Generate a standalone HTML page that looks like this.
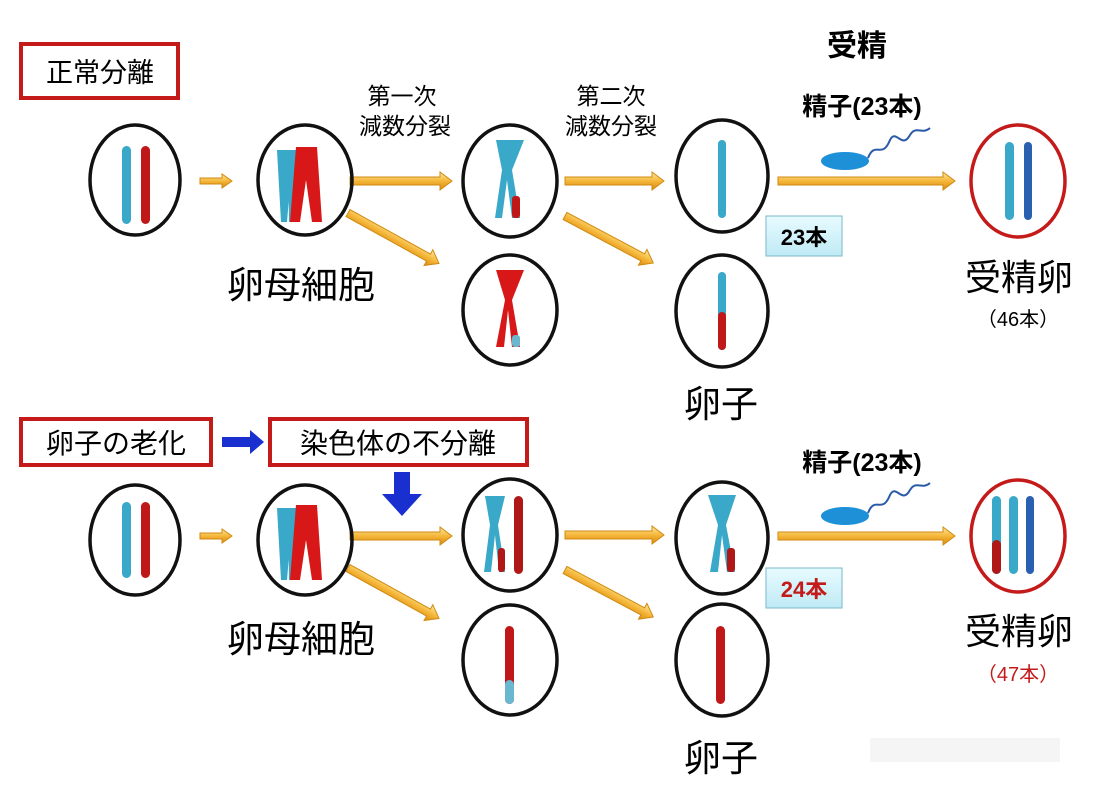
<!DOCTYPE html>
<html><head><meta charset="utf-8"><style>
html,body{margin:0;padding:0;background:#fff;}
svg{display:block;}
text{font-family:"Liberation Sans","Noto Sans CJK JP",sans-serif;}
</style></head><body>
<svg width="1108" height="796" viewBox="0 0 1108 796" xmlns="http://www.w3.org/2000/svg">
<defs>
<linearGradient id="ag" x1="0" y1="0" x2="0" y2="1"><stop offset="0" stop-color="#fde9a0"/><stop offset="0.5" stop-color="#f5b73a"/><stop offset="1" stop-color="#d98a10"/></linearGradient>
<linearGradient id="bx" x1="0" y1="0" x2="0" y2="1"><stop offset="0" stop-color="#e8fbff"/><stop offset="1" stop-color="#bfeaf5"/></linearGradient>
</defs>
<rect width="1108" height="796" fill="#fff"/>

<!-- boxes -->
<rect x="21" y="44" width="157" height="54" fill="#fff" stroke="#c41a1a" stroke-width="4"/>
<text x="100" y="82" font-size="27" text-anchor="middle">正常分離</text>
<rect x="21" y="419" width="190" height="46" fill="#fff" stroke="#c41a1a" stroke-width="4"/>
<text x="116" y="453" font-size="28" text-anchor="middle">卵子の老化</text>
<rect x="270" y="419" width="257" height="46" fill="#fff" stroke="#c41a1a" stroke-width="4"/>
<text x="398" y="453" font-size="28" text-anchor="middle">染色体の不分離</text>
<path d="M222,437 L250,437 L250,430 L264,442 L250,454 L250,447 L222,447Z" fill="#1a2fd0"/>
<path d="M394,472 L410,472 L410,494 L422,494 L402,516 L382,494 L394,494Z" fill="#1a2fd0"/>

<!-- labels -->
<text x="402" y="104" font-size="23" text-anchor="middle">第一次</text>
<text x="405" y="134" font-size="23" text-anchor="middle">減数分裂</text>
<text x="611" y="104" font-size="23" text-anchor="middle">第二次</text>
<text x="611" y="134" font-size="23" text-anchor="middle">減数分裂</text>
<text x="857" y="56" font-size="30" font-weight="bold" text-anchor="middle">受精</text>
<text x="862" y="115" font-size="25" font-weight="bold" text-anchor="middle">精子(23本)</text>
<text x="862" y="471" font-size="25" font-weight="bold" text-anchor="middle">精子(23本)</text>
<text x="301" y="298" font-size="37" text-anchor="middle">卵母細胞</text>
<text x="301" y="652" font-size="37" text-anchor="middle">卵母細胞</text>
<text x="1019" y="290" font-size="36" text-anchor="middle">受精卵</text>
<text x="1018" y="326" font-size="20" text-anchor="middle">（46本）</text>
<text x="1019" y="644" font-size="36" text-anchor="middle">受精卵</text>
<text x="1018" y="681" font-size="20" fill="#c41a1a" text-anchor="middle">（47本）</text>
<text x="721" y="417" font-size="37" text-anchor="middle">卵子</text>
<text x="721" y="771" font-size="37" text-anchor="middle">卵子</text>
<rect x="766" y="216" width="76" height="40" fill="url(#bx)" stroke="#7ab8c8"/>
<text x="804" y="245" font-size="22" font-weight="bold" text-anchor="middle">23本</text>
<rect x="766" y="568" width="76" height="40" fill="url(#bx)" stroke="#7ab8c8"/>
<text x="804" y="597" font-size="22" font-weight="bold" fill="#c41a1a" text-anchor="middle">24本</text>
<rect x="870" y="738" width="190" height="24" fill="#f2f2f2" opacity="0.8"/>

<!-- arrows -->
<g fill="url(#ag)" stroke="#d08a10" stroke-width="1">
<path d="M200,178 L222,178 L222,174 L232,181 L222,188 L222,184 L200,184Z"/>
<path d="M200,533 L222,533 L222,529 L232,536 L222,543 L222,539 L200,539Z"/>
<path d="M350,177 L440,177 L440,172 L452,181 L440,190 L440,185 L350,185Z"/>
<path d="M350,532 L440,532 L440,527 L452,536 L440,545 L440,540 L350,540Z"/>
<path d="M565,177 L652,177 L652,172 L664,181 L652,190 L652,185 L565,185Z"/>
<path d="M565,531 L652,531 L652,526 L664,535 L652,544 L652,539 L565,539Z"/>
<path d="M778,177 L943,177 L943,172 L955,181 L943,190 L943,185 L778,185Z"/>
<path d="M778,532 L943,532 L943,527 L955,536 L943,545 L943,540 L778,540Z"/>
<g transform="translate(348,213) rotate(29)"><path d="M0,-4 L92,-4 L92,-9 L104,0 L92,9 L92,4 L0,4Z"/></g>
<g transform="translate(348,568) rotate(29)"><path d="M0,-4 L92,-4 L92,-9 L104,0 L92,9 L92,4 L0,4Z"/></g>
<g transform="translate(565,216) rotate(28)"><path d="M0,-4 L88,-4 L88,-9 L100,0 L88,9 L88,4 L0,4Z"/></g>
<g transform="translate(565,570) rotate(28)"><path d="M0,-4 L88,-4 L88,-9 L100,0 L88,9 L88,4 L0,4Z"/></g>
</g>

<!-- circles -->
<g fill="none" stroke="#111" stroke-width="3.5">
<ellipse cx="135" cy="180" rx="45" ry="55"/>
<ellipse cx="305" cy="180" rx="47" ry="55"/>
<ellipse cx="510" cy="181" rx="47" ry="56"/>
<ellipse cx="510" cy="310" rx="47" ry="55"/>
<ellipse cx="722" cy="176" rx="46" ry="56"/>
<ellipse cx="722" cy="311" rx="46" ry="56"/>
<ellipse cx="135" cy="540" rx="45" ry="55"/>
<ellipse cx="305" cy="540" rx="47" ry="55"/>
<ellipse cx="510" cy="535" rx="47" ry="56"/>
<ellipse cx="510" cy="660" rx="47" ry="55"/>
<ellipse cx="722" cy="538" rx="46" ry="56"/>
<ellipse cx="722" cy="660" rx="46" ry="56"/>
</g>
<g fill="none" stroke="#c41a1a" stroke-width="3.5">
<ellipse cx="1018" cy="181" rx="47" ry="56"/>
<ellipse cx="1018" cy="536" rx="47" ry="56"/>
</g>

<!-- chromosomes -->
<g>
<rect x="122" y="146" width="9" height="78" rx="4.5" fill="#3aa8c8"/>
<rect x="141" y="146" width="9" height="78" rx="4.5" fill="#c01818"/>
<path d="M277,150 L293,150 L287,222 L281,222Z M288,150 L300,150 L295,222 L289,222Z" fill="#3aa8c8"/>
<path d="M296,147 L317,147 L322,222 L312,222 L306,180 L300,222 L290,222Z" fill="#d81818"/>
<path d="M496,140 L524,140 L512,170 L520,218 L512,218 L507,180 L502,218 L495,218 L502,170Z" fill="#3aa8c8"/>
<rect x="512" y="196" width="8" height="22" rx="3" fill="#c01818"/>
<path d="M496,270 L524,270 L512,300 L520,347 L512,347 L508,310 L504,347 L496,347 L505,300Z" fill="#d81818"/>
<rect x="512" y="335" width="8" height="12" rx="3" fill="#6ab8d0"/>
<rect x="718" y="140" width="8" height="78" rx="4" fill="#3aa8c8"/>
<rect x="718" y="272" width="8" height="78" rx="4" fill="#3aa8c8"/>
<rect x="718" y="312" width="8" height="38" rx="4" fill="#c01818"/>
<rect x="1005" y="142" width="9" height="78" rx="4.5" fill="#3aa8c8"/>
<rect x="1024" y="142" width="8" height="78" rx="4" fill="#2a60b0"/>
<rect x="122" y="502" width="9" height="76" rx="4.5" fill="#3aa8c8"/>
<rect x="141" y="502" width="9" height="76" rx="4.5" fill="#c01818"/>
<path d="M277,508 L293,508 L287,580 L281,580Z M288,508 L300,508 L295,580 L289,580Z" fill="#3aa8c8"/>
<path d="M296,505 L317,505 L322,580 L312,580 L306,540 L300,580 L290,580Z" fill="#d81818"/>
<path d="M485,496 L505,496 L498,525 L505,572 L499,572 L495,535 L491,572 L484,572 L490,525Z" fill="#3aa8c8"/>
<rect x="498" y="548" width="7" height="24" rx="3" fill="#b01818"/>
<rect x="514" y="496" width="9" height="78" rx="4.5" fill="#b01818"/>
<path d="M708,495 L736,495 L726,525 L735,572 L727,572 L722,535 L718,572 L710,572 L718,525Z" fill="#3aa8c8"/>
<rect x="727" y="548" width="8" height="24" rx="3" fill="#b01818"/>
<rect x="505" y="626" width="9" height="78" rx="4.5" fill="#c01818"/>
<rect x="505" y="680" width="9" height="24" rx="4.5" fill="#6ab8d0"/>
<rect x="716" y="626" width="9" height="78" rx="4.5" fill="#c01818"/>
<rect x="992" y="496" width="9" height="78" rx="4.5" fill="#3aa8c8"/>
<rect x="992" y="540" width="9" height="34" rx="4.5" fill="#b01818"/>
<rect x="1009" y="496" width="9" height="78" rx="4.5" fill="#3aa8c8"/>
<rect x="1026" y="496" width="8" height="78" rx="4" fill="#2a60b0"/>
</g>

<!-- sperm -->
<ellipse cx="845" cy="161" rx="24" ry="9" fill="#1e90d8"/>
<path d="M868,158 C875,140 882,160 890,140 C896,128 902,150 910,135 C916,125 922,135 930,128" fill="none" stroke="#2a5aa8" stroke-width="2"/>
<ellipse cx="845" cy="516" rx="24" ry="9" fill="#1e90d8"/>
<path d="M868,513 C875,495 882,515 890,495 C896,483 902,505 910,490 C916,480 922,490 930,483" fill="none" stroke="#2a5aa8" stroke-width="2"/>
</svg>
</body></html>
